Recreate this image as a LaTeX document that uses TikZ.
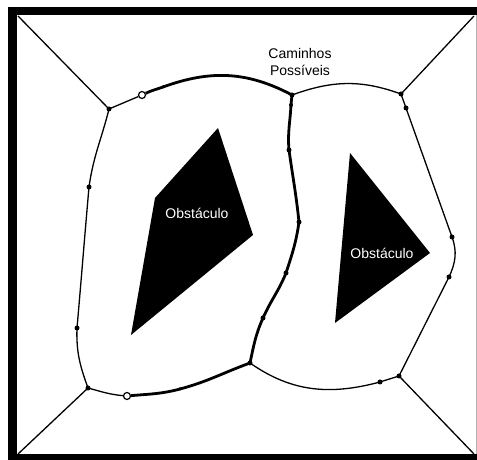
\documentclass[tikz,border=0pt]{standalone}
\usepackage{fontspec}
\setmainfont{Liberation Sans}

\begin{document}
\begin{tikzpicture}[x=1pt,y=1pt,
  dot/.style={circle, fill=black, inner sep=0pt, minimum size=5pt},
  hollow/.style={circle, draw=black, fill=white, line width=1.2pt, inner sep=0pt, minimum size=7pt},
  thinpath/.style={black, line width=1.3pt},
  thickpath/.style={black, line width=2.8pt},
  lbl/.style={font=\fontsize{14}{16.7}\selectfont, align=center, inner sep=0pt}]
\useasboundingbox (0,0) rectangle (477,460);
\fill[black] (8,0) rectangle (477,453);
\fill[white] (17,6) rectangle (475.5,445);
\fill[black!30] (475.5,6) rectangle (477,445);
\fill[black] (218,332) -- (253,225) -- (131,125) -- (155,262) -- cycle;
\fill[black] (350,307) -- (430,207) -- (335,137) -- cycle;
\node[lbl, white] (obsa) at (197,247) {Obstáculo};
\node[lbl, white] (obsb) at (382,207) {Obstáculo};
\node[lbl] (caminhos) at (300,398) {Caminhos\\Possíveis};
\coordinate (tl) at (18,444);
\coordinate (tr) at (474,444);
\coordinate (bl) at (18,6);
\coordinate (br) at (474,6);
\node[dot] (j1) at (109,351) {};
\node[dot] (j2) at (292,365) {};
\node[dot] (j3) at (401,366) {};
\node[dot] (j4) at (88,72) {};
\node[dot] (j5) at (250,97) {};
\node[dot] (j6) at (399,84) {};
\node[dot] (l1) at (89,273) {};
\node[dot] (l2) at (77,132) {};
\node[hollow] (o1) at (142,365) {};
\node[dot, minimum size=3.5pt] (t1) at (163,373) {};
\node[dot, minimum size=4pt] (m1) at (291,355) {};
\node[dot] (m2) at (289,310) {};
\node[dot] (m3) at (299,238) {};
\node[dot] (m4) at (286,187) {};
\node[dot] (m5) at (263,142) {};
\node[dot] (r1) at (406,352) {};
\node[dot] (r2) at (452,223) {};
\node[dot] (r3) at (449,183) {};
\node[dot] (d1) at (380,78) {};
\node[hollow] (o2) at (127,64) {};
\node[dot, minimum size=3.5pt] (d2) at (180,71) {};
\draw[thinpath] (tl) -- (j1.center);
\draw[thinpath] (j3.center) -- (tr);
\draw[thinpath] (j4.center) -- (bl);
\draw[thinpath] (j6.center) -- (br);
\draw[thinpath] (j1.center) to[out=256,in=82] (l1.center) to[out=265,in=85] (l2.center) to[out=268,in=110] (j4.center);
\draw[thinpath] (j1.center) -- (o1);
\draw[thickpath] (o1) to[out=25,in=200] (t1.center) to[out=20,in=152] (j2.center);
\draw[thinpath] (j2.center) to[out=20,in=160] (j3.center);
\draw[thickpath] (j2.center) to[out=266,in=87] (m1.center) to[out=267,in=95] (m2.center) to[out=278,in=96] (m3.center) to[out=262,in=72] (m4.center) to[out=248,in=66] (m5.center) to[out=246,in=78] (j5.center);
\draw[thinpath] (j3.center) -- (r1.center) -- (r2.center) to[out=290,in=65] (r3.center) -- (j6.center);
\draw[thinpath] (j5.center) to[out=-35,in=195] (d1.center) -- (j6.center);
\draw[thinpath] (j4.center) to[out=-15,in=175] (o2);
\draw[thickpath] (o2) to[out=5,in=195] (d2.center) to[out=15,in=200] (j5.center);
\end{tikzpicture}
\end{document}
